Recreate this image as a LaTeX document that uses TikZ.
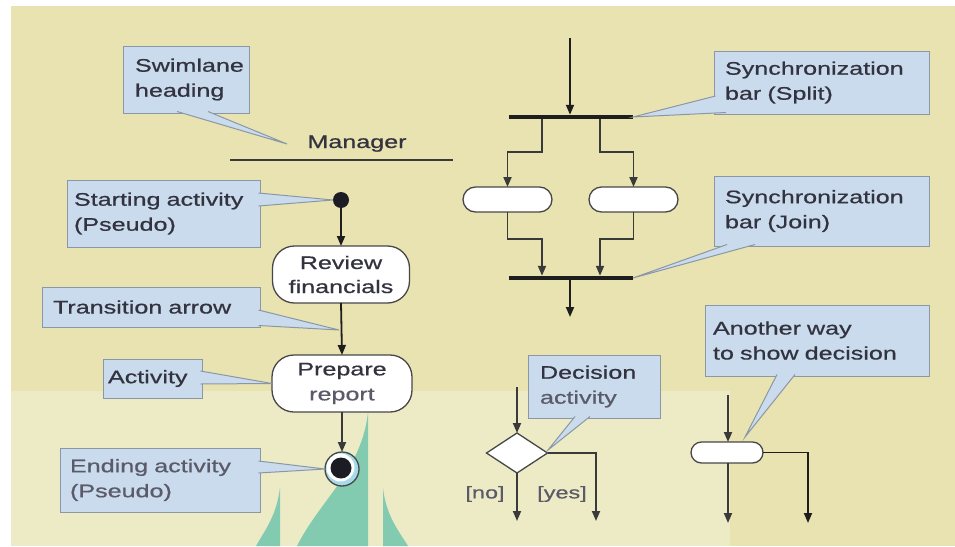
\documentclass[tikz,border=0pt]{standalone}
\usepackage{fontspec}
\setmainfont{Liberation Sans}[FakeStretch=1.38,FakeBold=0.7]
\usetikzlibrary{arrows.meta,shapes.geometric,calc}
\definecolor{bgA}{HTML}{E8E3B1}
\definecolor{bgB}{HTML}{EDEAC6}
\definecolor{wmk}{HTML}{82CBB1}
\definecolor{cfill}{HTML}{C9DBEC}
\definecolor{cbord}{HTML}{8C97A6}
\definecolor{txt}{HTML}{33333F}
\definecolor{txtl}{HTML}{5A5A68}
\definecolor{linec}{HTML}{3A3A3A}
\definecolor{barc}{HTML}{1E1E1E}
\definecolor{dotc}{HTML}{1C1C24}
\definecolor{ringb}{HTML}{A6DAEA}
\definecolor{pillbord}{HTML}{474747}
\begin{document}
\begin{tikzpicture}[x=1pt,y=-1pt,
  every node/.style={font=\fontsize{18.2pt}{25pt}\selectfont, text=txt, outer sep=0pt},
  callout/.style={draw=cbord, fill=cfill, line width=1pt, align=left, inner ysep=0pt},
  wedge/.style={fill=cfill, draw=cbord, line width=1pt},
  pill/.style={draw=pillbord, fill=white, line width=1.3pt, inner sep=0pt, align=center},
  arr/.style={draw=linec, line width=1.8pt, -{Triangle[length=10pt,width=8pt]}},
  ln/.style={draw=linec, line width=1.8pt},
  bar/.style={fill=barc, inner sep=0pt, minimum height=4.5pt}]
\useasboundingbox (0,0) rectangle (955,546);
\fill[white] (0,0) rectangle (955,546);
\fill[bgA] (11,6) rectangle (955,546);
\fill[bgB] (11,391) rectangle (730,546);
% watermark shapes
\fill[wmk] (368,412) .. controls (362,470) and (320,500) .. (297,546) -- (368,546) -- cycle;
\fill[wmk] (383,488) .. controls (386,515) and (398,530) .. (408,546) -- (383,546) -- cycle;
\fill[wmk] (280,487) .. controls (277,515) and (265,530) .. (256,546) -- (280,546) -- cycle;

% swimlane heading
\node[anchor=base] (mgr) at (357,148) {Manager};
\coordinate (mgrL) at (230,160);
\coordinate (mgrR) at (453,160);
\draw[ln, line width=1.3pt] (mgrL) -- (mgrR);

% main flow
\node[circle, fill=dotc, minimum size=16pt, inner sep=0pt] (start) at (341,200) {};
\node[pill, rounded corners=22pt, minimum width=137pt, minimum height=57pt, font=\fontsize{18.2pt}{24pt}\selectfont] (review) at (341,274.5) {Review\\financials};
\node[pill, rounded corners=22pt, minimum width=140pt, minimum height=57pt, font=\fontsize{18.2pt}{25pt}\selectfont] (prepare) at (342,383.5) {Prepare\\\textcolor{txtl}{report}};
\node[circle, draw=pillbord, fill=ringb, line width=1.3pt, minimum size=34pt, inner sep=0pt] (end) at (342,469) {};
\fill[white] ($(end.center)+(-1.5,-1.5)$) circle (14pt);
\fill[dotc] ($(end.center)+(-1,-1)$) circle (10.5pt);
\draw[arr, draw=barc] (start) -- (review.north);
\draw[arr, draw=barc] (review.south) -- (prepare.north);
\draw[arr] (prepare.south) -- (end.north);

% fork / join
\coordinate (splitin) at (570,38);
\node[bar, minimum width=124pt] (split) at (571,117) {};
\node[pill, rounded corners=12.5pt, minimum width=89pt, minimum height=25pt] (pillL) at (507.5,199.5) {};
\node[pill, rounded corners=12.5pt, minimum width=89pt, minimum height=25pt] (pillR) at (633.5,199.5) {};
\node[bar, minimum width=124pt] (join) at (571,278) {};
\draw[arr, draw=barc] (splitin) -- (splitin |- split.north);
\coordinate (bL) at (542,152);
\coordinate (bR) at (600,152);
\draw[arr] (split.south -| bL) -- (bL) -| (pillL.north);
\draw[arr] (split.south -| bR) -- (bR) -| (pillR.north);
\coordinate (jL) at (542,239);
\coordinate (jR) at (600,239);
\draw[arr] (pillL.south) |- (jL) -- (jL |- join.north);
\draw[arr] (pillR.south) |- (jR) -- (jR |- join.north);
\coordinate (joinout) at (570,317);
\draw[arr, draw=barc] (join.south -| joinout) -- (joinout);

% decision
\node[diamond, draw=pillbord, fill=white, line width=1.3pt, minimum width=61pt, minimum height=40pt, inner sep=0pt] (dec) at (517,453) {};
\coordinate (decin) at (517,387);
\coordinate (decno) at (517,521);
\coordinate (decyes) at (596,521);
\draw[arr] (decin) -- (dec.north);
\draw[arr] (dec.south) -- (decno);
\draw[arr] (dec.east) -| (decyes);
\node[text=txtl, font=\fontsize{17pt}{20pt}\selectfont] (lno) at (485,494) {[no]};
\node[text=txtl, font=\fontsize{17pt}{20pt}\selectfont] (lyes) at (562,494) {[yes]};

% another way
\node[pill, rounded corners=10.5pt, minimum width=72pt, minimum height=21pt] (pill2) at (727,452.5) {};
\coordinate (awin) at (728,395);
\coordinate (awno) at (728,523);
\coordinate (awyes) at (808,523);
\draw[arr] (awin) -- (awin |- pill2.north);
\draw[arr] (awin |- pill2.south) -- (awno);
\draw[arr, draw=barc] (pill2.east) -| (awyes);

% callouts
\node[callout, minimum width=126pt, minimum height=67pt, text width=102pt, inner xsep=12pt] (cswim) at (186,79.5) {Swimlane\\heading};
\node[callout, minimum width=193pt, minimum height=67pt, text width=179pt, inner xsep=7pt] (cstart) at (163.5,213.5) {Starting activity\\(Pseudo)};
\node[callout, minimum width=218pt, minimum height=40pt, text width=196pt, inner xsep=11pt] (ctrans) at (151,307) {Transition arrow};
\node[callout, minimum width=99pt, minimum height=39pt, text width=89pt, inner xsep=5pt] (cact) at (152.5,378.5) {Activity};
\node[callout, minimum width=200pt, minimum height=64pt, text width=180pt, inner xsep=10pt, text=txtl] (cend) at (160,480) {Ending activity\\(Pseudo)};
\node[callout, minimum width=215pt, minimum height=63pt, text width=193pt, inner xsep=11pt] (csplit) at (821.5,82.5) {Synchronization\\bar (Split)};
\node[callout, minimum width=215pt, minimum height=70pt, text width=193pt, inner xsep=11pt] (cjoin) at (821.5,211) {Synchronization\\bar (Join)};
\node[callout, minimum width=132pt, minimum height=63pt, text width=108pt, inner xsep=12pt] (cdec) at (594,386.5) {Decision\\\textcolor{txtl}{activity}};
\node[callout, minimum width=224pt, minimum height=71pt, text width=208pt, inner xsep=8pt] (canother) at (817,340.5) {Another way\\to show decision};

% callout pointers
\coordinate (tswim) at (287,144);
\coordinate (ttrans) at (339,330);
\coordinate (tdec) at (548,450);
\coordinate (tanother) at (745,437);
\path[wedge] (177,111.5) -- (tswim) -- (208,111.5);
\path[wedge] (258.5,193) -- (start.west) -- (258.5,206);
\path[wedge] (258.5,310) -- (ttrans) -- (258.5,325.5);
\path[wedge] (200.5,371) -- (prepare.west) -- (200.5,384);
\path[wedge] (258.5,461) -- (end.west) -- (258.5,473);
\path[wedge] (715.5,96) -- (split.east) -- (726,112.5);
\path[wedge] (727,244.5) -- (join.east) -- (755,244.5);
\path[wedge] (575,416.5) -- (tdec) -- (590,416.5);
\path[wedge] (777,374.5) -- (tanother) -- (795,374.5);
\end{tikzpicture}
\end{document}
